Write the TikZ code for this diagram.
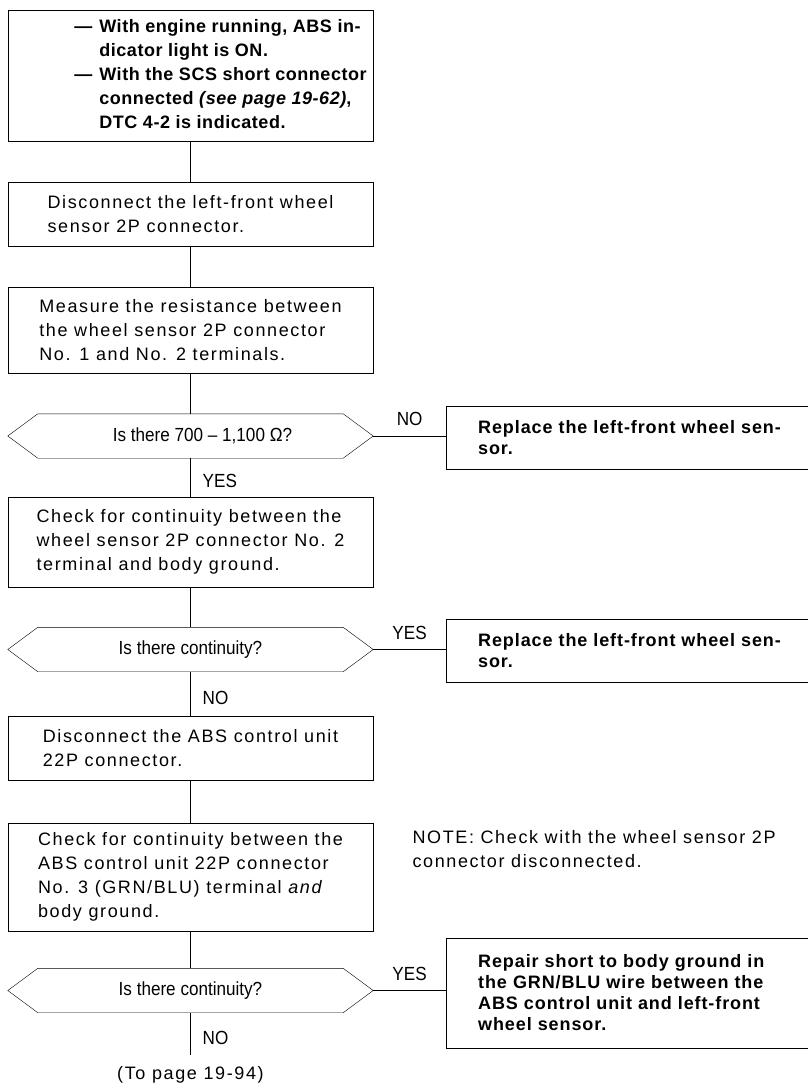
\documentclass[tikz,border=0pt]{standalone}
\usepackage{fontspec}
\setmainfont{Liberation Sans}
\newfontfamily\wideface[LetterSpace=9]{Liberation Sans}
\newfontfamily\heavyface[LetterSpace=5]{Liberation Sans}
\newfontfamily\headface[LetterSpace=3]{Liberation Sans}
\newfontfamily\slimface[FakeStretch=0.9]{Liberation Sans}
\usetikzlibrary{shapes.misc}

\tikzset{
  stepbox/.style={draw, minimum width=365pt, inner xsep=0pt, inner ysep=2pt,
    align=left, font=\wideface\fontsize{18}{24}\selectfont},
  askbox/.style={minimum width=365pt, minimum height=44pt, inner sep=0pt,
    font=\slimface\fontsize{19}{20}\selectfont},
  fixbox/.style={draw, anchor=west, text width=340pt, inner xsep=32pt,
    inner ysep=2pt, align=left, font=\heavyface\bfseries\fontsize{18}{21}\selectfont},
  tag/.style={font=\slimface\fontsize{19}{20}\selectfont, inner sep=0pt},
}

\begin{document}
\begin{tikzpicture}[x=1pt,y=-1pt]
  \useasboundingbox (0,0) rectangle (808,1084);

  % left column
  \node[stepbox, minimum height=131pt, font=\headface\bfseries\fontsize{18}{24}\selectfont] (start) at (190.5,75.5) {%
    \begin{tabular}{@{\hspace*{60pt}}l@{\hspace{7pt}}l@{}}
      — & With engine running, ABS in-\\
        & dicator light is ON.\\
      — & With the SCS short connector\\
        & connected {\itshape (see page 19-62)},\\
        & DTC 4-2 is indicated.
    \end{tabular}};
  \node[stepbox, minimum height=64pt] (unplug) at (190.5,214)
    {Disconnect the left-front wheel\\sensor 2P connector.};
  \node[stepbox, minimum height=86pt] (measure) at (190.5,330)
    {Measure the resistance between\\the wheel sensor 2P connector\\No. 1 and No. 2 terminals.};
  \node[askbox] (ohms) at (190.5,436) {\hspace*{24pt}Is there 700 – 1,100 Ω?};
  \node[stepbox, minimum height=90pt] (cont) at (190.5,542)
    {Check for continuity between the\\wheel sensor 2P connector No. 2\\terminal and body ground.};
  \node[askbox] (gnd) at (190.5,649.5) {Is there continuity?};
  \node[stepbox, minimum height=64pt] (unplugecu) at (190.5,748)
    {Disconnect the ABS control unit\\22P connector.};
  \node[stepbox, minimum height=108pt] (contecu) at (190.5,877)
    {Check for continuity between the\\ABS control unit 22P connector\\No. 3 (GRN/BLU) terminal {\itshape and}\\body ground.};
  \node[askbox] (gndecu) at (190.5,990.5) {Is there continuity?};
  \coordinate (tail) at (190.5,1055);
  \node[font=\wideface\fontsize{18}{20}\selectfont, anchor=base] (topage) at (190.5,1079) {(To page 19-94)};

  % decision outlines
  \foreach \d in {ohms, gnd, gndecu}
    \draw (\d.west) -- ([xshift=30pt]\d.north west) -- ([xshift=-30pt]\d.north east)
      -- (\d.east) -- ([xshift=-30pt]\d.south east) -- ([xshift=30pt]\d.south west) -- cycle;

  % right column
  \node[fixbox, minimum height=63pt] (swapA) at (446,437.5)
    {Replace the left-front wheel sen-\\sor.};
  \node[fixbox, minimum height=63pt] (swapB) at (446,651)
    {Replace the left-front wheel sen-\\sor.};
  \node[fixbox, minimum height=110pt] (repair) at (446,993)
    {Repair short to body ground in\\the GRN/BLU wire between the\\ABS control unit and left-front\\wheel sensor.};
  \node[font=\wideface\fontsize{18}{24}\selectfont, align=left, anchor=north west] (note) at (409,827)
    {NOTE: Check with the wheel sensor 2P\\connector disconnected.};

  % connectors
  \foreach \a/\b in {start/unplug, unplug/measure, measure/ohms, cont/gnd, unplugecu/contecu, contecu/gndecu}
    \draw (\a.south) -- (\b.north);
  \draw (ohms.south) -- node[tag, right, xshift=12pt, pos=0.6] {YES} (cont.north);
  \draw (gnd.south) -- node[tag, right, xshift=12pt, pos=0.6] {NO} (unplugecu.north);
  \draw (gndecu.south) -- node[tag, right, xshift=12pt, pos=0.6] {NO} (tail);
  \draw (ohms.east) -- node[tag, above=10pt] {NO} (ohms.east -| swapA.west);
  \draw (gnd.east) -- node[tag, above=10pt] {YES} (gnd.east -| swapB.west);
  \draw (gndecu.east) -- node[tag, above=10pt] {YES} (gndecu.east -| repair.west);
\end{tikzpicture}
\end{document}
